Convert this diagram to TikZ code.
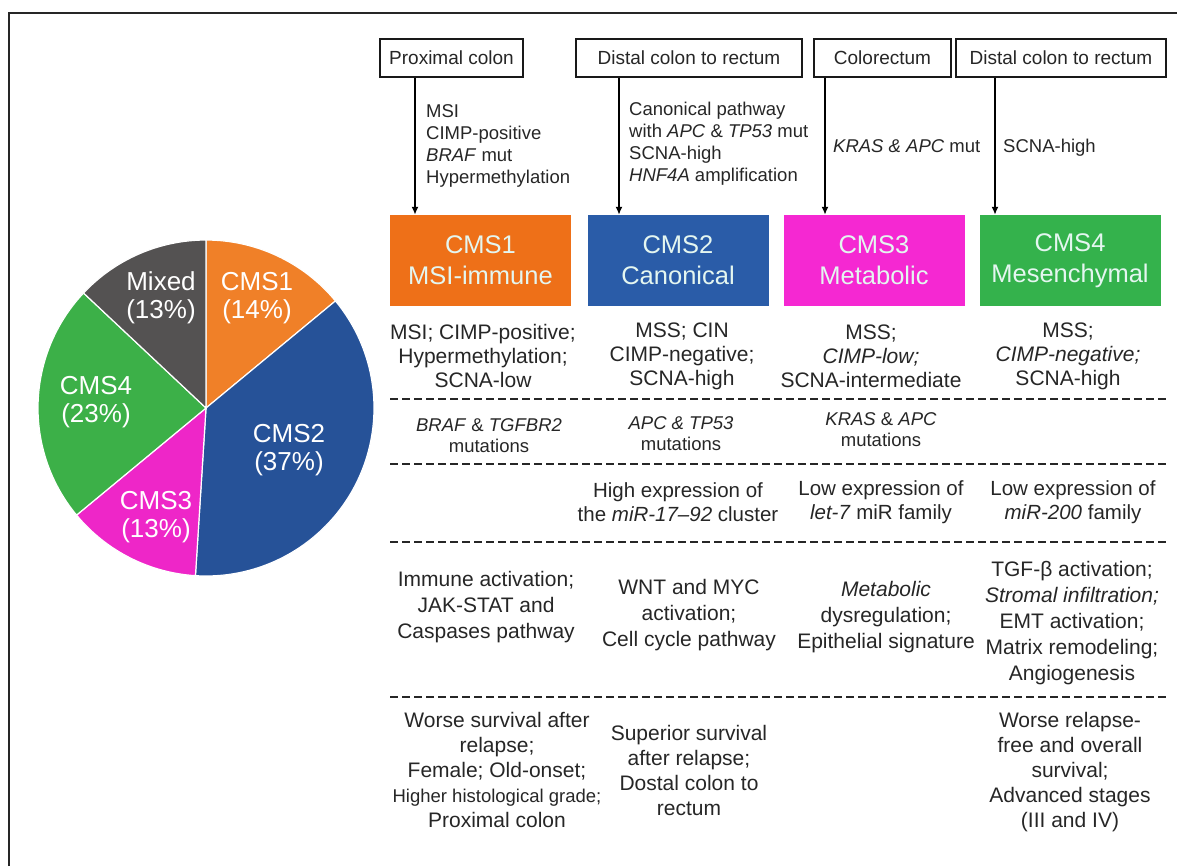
\documentclass[tikz,border=0pt]{standalone}
\usepackage{fontspec}
\setmainfont{Liberation Sans}
\usetikzlibrary{arrows.meta}
\definecolor{cmsorange}{RGB}{238,112,24}
\definecolor{cmsblue}{RGB}{42,92,168}
\definecolor{cmsmagenta}{RGB}{245,40,210}
\definecolor{cmsgreen}{RGB}{52,178,76}
\definecolor{pieorange}{RGB}{240,128,40}
\definecolor{pieblue}{RGB}{38,82,152}
\definecolor{piemagenta}{RGB}{238,38,200}
\definecolor{piegreen}{RGB}{60,176,72}
\definecolor{piegray}{RGB}{84,82,82}
\definecolor{cmstext}{RGB}{228,246,240}
\begin{document}
\begin{tikzpicture}[x=100pt,y=-100pt,>={Latex[length=8pt,width=7pt]},
    locbox/.style={draw=black!90, line width=2pt, fill=white, inner sep=0pt, minimum height=38pt, text=black!85, font=\fontsize{19}{22}\selectfont},
    cmsbox/.style={inner sep=0pt, minimum width=181pt, minimum height=91pt, align=center, text=cmstext, font=\fontsize{25.5}{31}\selectfont},
    sidetext/.style={inner sep=0pt, align=left, anchor=west, text=black!85, font=\fontsize{18.5}{22}\selectfont},
    facts/.style={inner sep=0pt, align=center, text=black!85, font=\fontsize{21}{24}\selectfont},
    muts/.style={inner sep=0pt, align=center, text=black!85, font=\fontsize{18.5}{21}\selectfont},
    expr/.style={inner sep=0pt, align=center, text=black!85, font=\fontsize{20.5}{24}\selectfont},
    paths/.style={inner sep=0pt, align=center, text=black!85, font=\fontsize{21}{26}\selectfont},
    outcome/.style={inner sep=0pt, align=center, text=black!85, font=\fontsize{21}{25}\selectfont},
    pielabel/.style={inner sep=0pt, align=center, text=white, font=\fontsize{26}{28}\selectfont},
    sepline/.style={black!85, line width=2.8pt, dash pattern=on 8pt off 4pt}]
    \useasboundingbox (0,0) rectangle (11.77,8.66);
    \draw[line width=2.2pt, black!85] (0.09,8.66) -- (0.09,0.13) -- (11.77,0.13);

    % pie chart
    \begin{scope}[shift={(2.06,4.08)}, yscale=-1]
        \filldraw[fill=pieorange, draw=white, line width=1.2pt] (0,0) -- (90:1.68) arc[start angle=90, end angle=39.6, radius=1.68] -- cycle;
        \filldraw[fill=pieblue, draw=white, line width=1.2pt] (0,0) -- (39.6:1.68) arc[start angle=39.6, end angle=-93.6, radius=1.68] -- cycle;
        \filldraw[fill=piemagenta, draw=white, line width=1.2pt] (0,0) -- (-93.6:1.68) arc[start angle=-93.6, end angle=-140.4, radius=1.68] -- cycle;
        \filldraw[fill=piegreen, draw=white, line width=1.2pt] (0,0) -- (-140.4:1.68) arc[start angle=-140.4, end angle=-223.2, radius=1.68] -- cycle;
        \filldraw[fill=piegray, draw=white, line width=1.2pt] (0,0) -- (-223.2:1.68) arc[start angle=-223.2, end angle=-270, radius=1.68] -- cycle;
    \end{scope}
    \node[pielabel] (piemixed) at (1.61,2.98) {Mixed\\(13\%)};
    \node[pielabel] (pieone) at (2.57,2.98) {CMS1\\(14\%)};
    \node[pielabel] (piefour) at (0.96,4.02) {CMS4\\(23\%)};
    \node[pielabel] (pietwo) at (2.89,4.50) {CMS2\\(37\%)};
    \node[pielabel] (piethree) at (1.56,5.17) {CMS3\\(13\%)};

    % locations and subtypes
    \node[locbox, minimum width=143pt] (locone) at (4.515,0.58) {Proximal colon};
    \node[locbox, minimum width=226pt] (loctwo) at (6.89,0.58) {Distal colon to rectum};
    \node[locbox, minimum width=137pt] (locthree) at (8.825,0.58) {Colorectum};
    \node[locbox, minimum width=210pt] (locfour) at (10.61,0.58) {Distal colon to rectum};
    \node[cmsbox, fill=cmsorange] (cmsone) at (4.805,2.605) {CMS1\\MSI-immune};
    \node[cmsbox, fill=cmsblue] (cmstwo) at (6.78,2.605) {CMS2\\Canonical};
    \node[cmsbox, fill=cmsmagenta] (cmsthree) at (8.74,2.605) {CMS3\\Metabolic};
    \node[cmsbox, fill=cmsgreen] (cmsfour) at (10.70,2.605) {CMS4\\Mesenchymal};

    \draw[->, line width=1.6pt] ([xshift=36pt]locone.south west) -- ([xshift=36pt]locone.south west |- cmsone.north);
    \draw[->, line width=1.6pt] ([xshift=44pt]loctwo.south west) -- ([xshift=44pt]loctwo.south west |- cmstwo.north);
    \draw[->, line width=1.6pt] ([xshift=12pt]locthree.south west) -- ([xshift=12pt]locthree.south west |- cmsthree.north);
    \draw[->, line width=1.6pt] ([xshift=40pt]locfour.south west) -- ([xshift=40pt]locfour.south west |- cmsfour.north);

    \node[sidetext] (notesone) at (4.26,1.455) {MSI\\CIMP-positive\\\textit{BRAF} mut\\Hypermethylation};
    \node[sidetext] (notestwo) at (6.29,1.44) {Canonical pathway\\with \textit{APC} \& \textit{TP53} mut\\SCNA-high\\\textit{HNF4A} amplification};
    \node[sidetext] (notesthree) at (8.33,1.46) {\textit{KRAS \& APC} mut};
    \node[sidetext] (notesfour) at (10.03,1.48) {SCNA-high};

    % table rows
    \node[facts] (factone) at (4.83,3.56) {MSI; CIMP-positive;\\Hypermethylation;\\SCNA-low};
    \node[facts] (facttwo) at (6.82,3.56) {MSS; CIN\\CIMP-negative;\\SCNA-high};
    \node[facts] (factthree) at (8.71,3.56) {MSS;\\\textit{CIMP-low;}\\SCNA-intermediate};
    \node[facts] (factfour) at (10.68,3.56) {MSS;\\\textit{CIMP-negative;}\\SCNA-high};
    \draw[sepline] (3.90,3.99) -- (11.67,3.99);

    \node[muts] (mutone) at (4.89,4.36) {\textit{BRAF} \& \textit{TGFBR2}\\mutations};
    \node[muts] (muttwo) at (6.81,4.34) {\textit{APC \& TP53}\\mutations};
    \node[muts] (mutthree) at (8.81,4.30) {\textit{KRAS} \& \textit{APC}\\mutations};
    \draw[sepline] (3.90,4.64) -- (11.67,4.64);

    \node[expr] (exprtwo) at (6.78,5.02) {High expression of\\the \textit{miR-17--92} cluster};
    \node[expr] (exprthree) at (8.81,5.02) {Low expression of\\\textit{let-7} miR family};
    \node[expr] (exprfour) at (10.73,5.02) {Low expression of\\\textit{miR-200} family};
    \draw[sepline] (3.90,5.42) -- (11.67,5.42);

    \node[paths] (pathone) at (4.86,6.07) {Immune activation;\\JAK-STAT and\\Caspases pathway};
    \node[paths] (pathtwo) at (6.89,6.15) {WNT and MYC\\activation;\\Cell cycle pathway};
    \node[paths] (paththree) at (8.86,6.17) {\textit{Metabolic}\\dysregulation;\\Epithelial signature};
    \node[paths] (pathfour) at (10.72,6.23) {TGF-β activation;\\\textit{Stromal infiltration;}\\EMT activation;\\Matrix remodeling;\\Angiogenesis};
    \draw[sepline] (3.90,6.97) -- (11.67,6.97);

    \node[outcome] (outone) at (4.97,7.70) {Worse survival after\\relapse;\\Female; Old-onset;\\{\fontsize{18.5}{25}\selectfont Higher histological grade;}\\Proximal colon};
    \node[outcome] (outtwo) at (6.89,7.70) {Superior survival\\after relapse;\\Dostal colon to\\rectum};
    \node[outcome] (outfour) at (10.70,7.72) {Worse relapse-\\free and overall\\survival;\\Advanced stages\\(III and IV)};
\end{tikzpicture}
\end{document}
